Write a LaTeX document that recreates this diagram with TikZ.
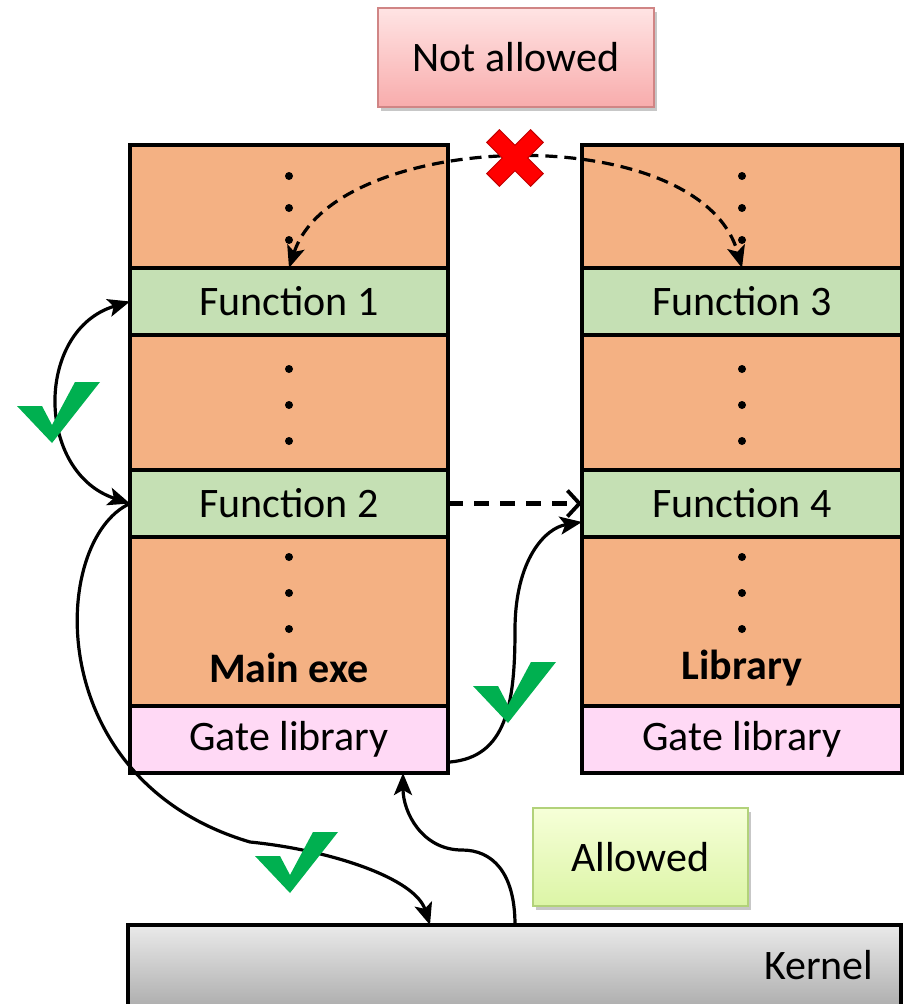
\documentclass[tikz,border=0pt]{standalone}
\usepackage{fontspec}
\setmainfont{Carlito}
\usetikzlibrary{arrows.meta,shadows,calc}
\definecolor{segorange}{HTML}{F4B183}
\definecolor{seggreen}{HTML}{C5E0B4}
\definecolor{segpink}{HTML}{FFD9F5}
\definecolor{okgreen}{HTML}{00B050}
\definecolor{nored}{HTML}{FF0000}
\definecolor{nodark}{HTML}{C00000}
\definecolor{naTop}{HTML}{FFE4E4}
\definecolor{naBot}{HTML}{F8ACAC}
\definecolor{naLine}{HTML}{D08585}
\definecolor{alTop}{HTML}{F6FFD8}
\definecolor{alBot}{HTML}{DCF5A6}
\definecolor{alLine}{HTML}{B2D27A}
\definecolor{kTop}{HTML}{EAEAEA}
\definecolor{kBot}{HTML}{A8A8A8}
\begin{document}
\begin{tikzpicture}[x=1pt,y=-1pt,
  txt/.style={font=\fontsize{42}{48}\selectfont},
  seg/.style={draw=black,line width=3.4pt,inner sep=0pt,outer sep=0pt,
    anchor=north west,txt},
  lcol/.style={seg,minimum width=318pt},
  rcol/.style={seg,minimum width=320pt},
  bodyrow/.style={fill=segorange},
  fnrow/.style={fill=seggreen,minimum height=67pt},
  gaterow/.style={fill=segpink,minimum height=67pt},
  dotmark/.style={fill=black},
  link/.style={draw=black,line width=3.2pt},
  tipS/.style={-{Stealth[length=22pt,width=18pt,inset=5pt]}},
  tipSS/.style={{Stealth[length=22pt,width=18pt,inset=5pt]}-{Stealth[length=22pt,width=18pt,inset=5pt]}},
  tagbox/.style={inner sep=0pt,outer sep=0pt,anchor=north west,txt,line width=1.6pt,
    drop shadow={shadow xshift=3pt,shadow yshift=-4pt,opacity=0.22,fill=black}},
]
\useasboundingbox (0,0) rectangle (909,1004);

% ---- main executable column
\node[lcol,bodyrow,minimum height=123pt] (l0) at (130,145) {};
\node[lcol,fnrow] (f1) at (l0.south west) {Function 1};
\node[lcol,bodyrow,minimum height=135pt] (l2) at (f1.south west) {};
\node[lcol,fnrow] (f2) at (l2.south west) {Function 2};
\node[lcol,bodyrow,minimum height=169pt] (l4) at (f2.south west) {};
\node[lcol,gaterow] (g1) at (l4.south west) {Gate library};

% ---- library column
\node[rcol,bodyrow,minimum height=123pt] (r0) at (582,145) {};
\node[rcol,fnrow] (f3) at (r0.south west) {Function 3};
\node[rcol,bodyrow,minimum height=135pt] (r2) at (f3.south west) {};
\node[rcol,fnrow] (f4) at (r2.south west) {Function 4};
\node[rcol,bodyrow,minimum height=169pt] (r4) at (f4.south west) {};
\node[rcol,gaterow] (g2) at (r4.south west) {Gate library};

% ---- vertical ellipses
\foreach \cx in {289,742}{
  \foreach \cy in {176,208,240,369,405,441,557,593,629}{
    \fill[dotmark] (\cx,\cy) circle (4pt);
  }
}
\node[txt,font=\fontsize{42}{48}\selectfont\bfseries] (mainlbl) at (289,668) {Main exe};
\node[txt,font=\fontsize{42}{48}\selectfont\bfseries] (liblbl) at (742,668) {Library};

% ---- kernel bar
\node[draw=black,line width=3.2pt,top color=kTop,bottom color=kBot,
  minimum width=773pt,minimum height=90pt,inner sep=0pt,outer sep=0pt,
  anchor=north west] (kern) at (128,925) {};
\node[txt,anchor=east] (kernlbl) at (877,965) {Kernel};

% ---- legend boxes
\node[tagbox,draw=naLine,top color=naTop,bottom color=naBot,
  minimum width=276pt,minimum height=99pt] (notok) at (378,8) {Not allowed};
\node[tagbox,draw=alLine,top color=alTop,bottom color=alBot,
  minimum width=215pt,minimum height=98pt] (okbox) at (533,808) {Allowed};

% ---- forbidden direct call between modules
\draw[link,tipSS,dash pattern=on 12pt off 7pt]
  (f1.north) .. controls (335,128) and (700,118) .. (f3.north);
\draw[link,line width=4.4pt,dash pattern=on 15pt off 11pt,
  -{Straight Barb[length=12pt,width=26pt,line width=3.8pt]}]
  (f2.east) -- (f4.west);

% ---- allowed transitions
\draw[link,tipSS] (f1.west) .. controls (35,330) and (35,472) .. (f2.west);
\draw[link,tipS] ($(g1.south east)+(2,-11)$)
  .. controls (506,757) and (515,705) .. (515,630)
  .. controls (515,560) and (545,528) .. ($(f4.south west)+(0,-15)$);
\draw[link,tipS] (f2.west)
  .. controls (50,540) and (40,780) .. (250,842)
  .. controls (330,850) and (415,878) .. ($(kern.north west)+(302,0)$);
\draw[link,tipS] ($(kern.north west)+(387,0)$)
  .. controls (515,872) and (492,850) .. (462,850)
  .. controls (422,850) and (403,812) .. ($(g1.south west)+(273,0)$);

% ---- check marks
\foreach \bx/\by in {52/443, 508/723, 290/893}{
  \fill[okgreen] (\bx,\by) -- ++(-35,-37) -- ++(25,0) -- ++(10,19)
    -- ++(23,-43) -- ++(25,0) -- cycle;
}

% ---- red cross on the forbidden call
\draw[nodark,fill=nored,line width=1pt,rotate around={45:(515,158)}]
  (506,127) -- (524,127) -- (524,149) -- (546,149) -- (546,167) -- (524,167)
  -- (524,189) -- (506,189) -- (506,167) -- (484,167) -- (484,149) -- (506,149) -- cycle;
\end{tikzpicture}
\end{document}
